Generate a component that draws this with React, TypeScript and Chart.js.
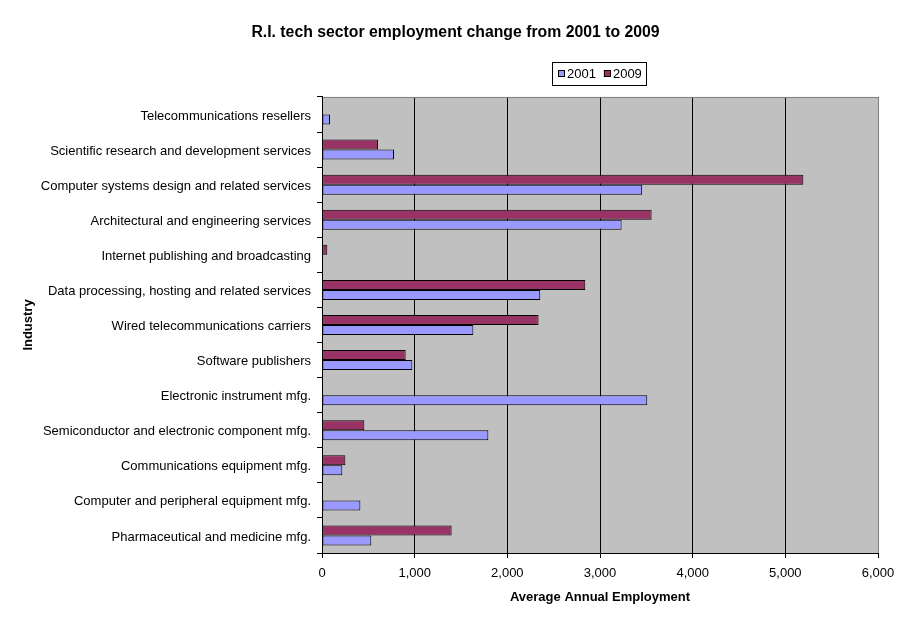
import { useEffect, useRef } from 'react'
import Chart from 'chart.js/auto'
import type { Plugin } from 'chart.js'

const industries = [
  'Telecommunications resellers',
  'Scientific research and development services',
  'Computer systems design and related services',
  'Architectural and engineering services',
  'Internet publishing and broadcasting',
  'Data processing, hosting and related services',
  'Wired telecommunications carriers',
  'Software publishers',
  'Electronic instrument mfg.',
  'Semiconductor and electronic component mfg.',
  'Communications equipment mfg.',
  'Computer and peripheral equipment mfg.',
  'Pharmaceutical and medicine mfg.',
]

// null = no bar shown in the original
const jobs2001 = [86, 777, 3455, 3233, null, 2355, 1633, 975, 3510, 1795, 219, 414, 532]
const jobs2009 = [null, 604, 5194, 3557, 57, 2841, 2337, 903, null, 457, 252, null, 1399]

const X_MIN = 0
const X_MAX = 6000
const X_STEP = 1000

const FONT = '"Liberation Sans", Arial, sans-serif'

// grey plot area, grey top/right frame and the boxed legend
const excelLook: Plugin<'bar'> = {
  id: 'excelLook',
  beforeDraw(chart) {
    const { ctx, chartArea: a } = chart
    ctx.save()
    ctx.fillStyle = '#c0c0c0'
    ctx.fillRect(a.left, a.top, a.right - a.left, a.bottom - a.top)
    ctx.restore()
  },
  afterDraw(chart) {
    const { ctx, chartArea: a } = chart
    ctx.save()
    ctx.strokeStyle = '#808080'
    ctx.lineWidth = 1
    ctx.beginPath()
    ctx.moveTo(a.left + 1, a.top + 0.5)
    ctx.lineTo(a.right + 0.5, a.top + 0.5)
    ctx.lineTo(a.right + 0.5, a.bottom)
    ctx.stroke()

    // legend lists 2001 first, bars stack 2009 on top
    const items = [...chart.data.datasets].reverse()
    ctx.fillStyle = '#fff'
    ctx.fillRect(552, 62, 94, 23)
    ctx.strokeStyle = '#000'
    ctx.strokeRect(552.5, 62.5, 94, 23)
    ctx.font = `13px ${FONT}`
    ctx.textAlign = 'left'
    ctx.textBaseline = 'middle'
    let x = 558
    items.forEach((ds) => {
      ctx.fillStyle = ds.backgroundColor as string
      ctx.fillRect(x, 70, 7, 7)
      ctx.strokeRect(x + 0.5, 70.5, 6, 6)
      ctx.fillStyle = '#000'
      ctx.fillText(ds.label ?? '', x + 9, 74)
      x += 9 + ctx.measureText(ds.label ?? '').width + 8
    })
    ctx.restore()
  },
}

export default function App() {
  const canvasRef = useRef<HTMLCanvasElement>(null)
  const chartRef = useRef<Chart | null>(null)

  useEffect(() => {
    if (!canvasRef.current) return
    if (chartRef.current) chartRef.current.destroy()

    chartRef.current = new Chart(canvasRef.current, {
      type: 'bar',
      data: {
        labels: industries,
        datasets: [
          {
            label: '2009',
            data: jobs2009,
            backgroundColor: '#993366',
            borderColor: '#000',
            borderWidth: 1,
            borderSkipped: false,
            categoryPercentage: 0.57,
            barPercentage: 1,
          },
          {
            label: '2001',
            data: jobs2001,
            backgroundColor: '#9999ff',
            borderColor: '#000',
            borderWidth: 1,
            borderSkipped: false,
            categoryPercentage: 0.57,
            barPercentage: 1,
          },
        ],
      },
      options: {
        indexAxis: 'y',
        responsive: false,
        animation: false,
        locale: 'en-US',
        layout: { padding: { left: 33, right: 33, top: 0, bottom: 0 } },
        plugins: {
          legend: { display: false },
          tooltip: { enabled: false },
          title: {
            display: true,
            text: 'R.I. tech sector employment change from 2001 to 2009',
            color: '#000',
            font: { family: FONT, size: 15.8, weight: 'bold' },
            padding: { top: 23, bottom: 55 },
          },
        },
        scales: {
          x: {
            type: 'linear',
            min: X_MIN,
            max: X_MAX,
            ticks: { stepSize: X_STEP, color: '#000', font: { family: FONT, size: 13 }, padding: 7.5 },
            grid: { color: '#000', tickLength: 5 },
            border: { color: '#000' },
            title: {
              display: true,
              text: 'Average Annual Employment',
              color: '#000',
              font: { family: FONT, size: 13, weight: 'bold' },
              padding: { top: 0, bottom: 18 },
            },
            afterFit: (s) => {
              s.height = 70
            },
          },
          y: {
            ticks: { color: '#000', font: { family: FONT, size: 13 }, padding: 6, labelOffset: 1.5 },
            grid: { offset: true, drawOnChartArea: false, color: '#000', tickLength: 5 },
            border: { color: '#000' },
            title: {
              display: true,
              text: 'Industry',
              color: '#000',
              font: { family: FONT, size: 13, weight: 'bold' },
              padding: { top: -12.8, bottom: 0 },
            },
            afterFit: (s) => {
              s.width = 289
            },
          },
        },
      },
      plugins: [excelLook],
    })

    return () => {
      if (chartRef.current) {
        chartRef.current.destroy()
        chartRef.current = null
      }
    }
  }, [])

  return (
    <div style={{ position: 'fixed', left: 0, top: 0, width: 911, height: 623, background: '#fff' }}>
      <canvas ref={canvasRef} width={911} height={623} />
    </div>
  )
}
